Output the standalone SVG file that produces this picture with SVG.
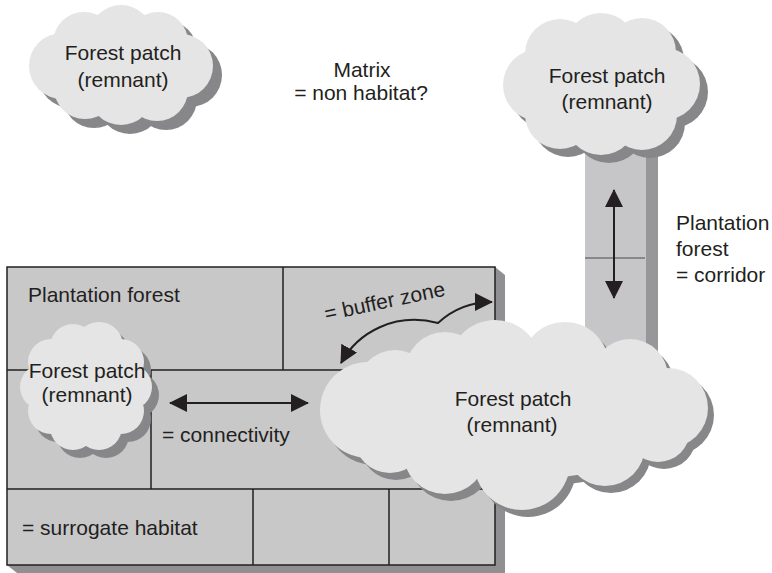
<svg xmlns="http://www.w3.org/2000/svg" xmlns:xlink="http://www.w3.org/1999/xlink" width="772" height="573" viewBox="0 0 772 573">
  <style>
    text { font-family: "Liberation Sans", Arial, sans-serif; font-size: 21px; fill: #231f20; }
    .mid { text-anchor: middle; }
    .cloud { fill: #e5e5e6; }
    .cloud-shadow { fill: #87878a; }
    .block { fill: #c8c8c9; stroke: #231f20; stroke-width: 1.5; }
    .divider { fill: none; stroke: #231f20; stroke-width: 1.5; }
    .arrow { fill: none; stroke: #231f20; stroke-width: 2; marker-start: url(#head); marker-end: url(#head); }
  </style>
  <defs>
    <marker id="head" viewBox="0 0 18 18" refX="17" refY="9" markerWidth="18" markerHeight="18" markerUnits="userSpaceOnUse" orient="auto-start-reverse">
      <path d="M0,0 L18,9 L0,18 z" fill="#231f20"/>
    </marker>
    <!-- cloud silhouettes built from overlapping puffs -->
    <g id="cloudTL">
      <ellipse cx="121" cy="65" rx="66" ry="36"/>
      <circle cx="121" cy="37" r="32"/>
      <circle cx="84" cy="43" r="31"/>
      <circle cx="158" cy="42" r="30"/>
      <circle cx="181" cy="66" r="32"/>
      <circle cx="62" cy="66" r="33"/>
      <circle cx="157" cy="90" r="31"/>
      <circle cx="121" cy="93" r="32"/>
      <circle cx="85" cy="88" r="31"/>
    </g>
    <g id="cloudTR">
      <ellipse cx="601" cy="84" rx="75" ry="50"/>
      <circle cx="601" cy="49" r="36"/>
      <circle cx="560" cy="54" r="35"/>
      <circle cx="642" cy="52" r="34"/>
      <circle cx="664" cy="84" r="36"/>
      <circle cx="539" cy="85" r="36"/>
      <circle cx="642" cy="115" r="35"/>
      <circle cx="601" cy="119" r="36"/>
      <circle cx="560" cy="114" r="35"/>
    </g>
    <g id="cloudSm">
      <ellipse cx="86" cy="387" rx="50" ry="48"/>
      <circle cx="129" cy="387" r="23"/>
      <circle cx="121" cy="411" r="23"/>
      <circle cx="99" cy="427" r="23"/>
      <circle cx="73" cy="427" r="23"/>
      <circle cx="51" cy="411" r="23"/>
      <circle cx="43" cy="387" r="23"/>
      <circle cx="51" cy="362" r="23"/>
      <circle cx="73" cy="347" r="23"/>
      <circle cx="99" cy="346" r="24"/>
      <circle cx="121" cy="362" r="23"/>
    </g>
    <g id="cloudBig">
      <ellipse cx="514" cy="418" rx="160" ry="62"/>
      <circle cx="395" cy="388" r="38"/>
      <circle cx="445" cy="372" r="40"/>
      <circle cx="495" cy="366" r="46"/>
      <circle cx="565" cy="366" r="44"/>
      <circle cx="630" cy="377" r="38"/>
      <circle cx="668" cy="408" r="40"/>
      <circle cx="368" cy="410" r="48"/>
      <circle cx="390" cy="437" r="36"/>
      <circle cx="445" cy="452" r="42"/>
      <circle cx="522" cy="462" r="48"/>
      <circle cx="605" cy="446" r="40"/>
      <circle cx="658" cy="430" r="32"/>
    </g>
  </defs>

  <!-- plantation block -->
  <g id="plantation">
    <polygon points="495,267 505,275 505,573 17,573 7,565" fill="#909092"/>
    <rect class="block" x="7" y="267" width="488" height="298"/>
    <path class="divider" d="M7,370 H495 M283,267 V370 M151,370 V489 M7,489 H495 M253,489 V565 M389,489 V565"/>
    <text x="28" y="302">Plantation forest</text>
    <text x="22" y="535">= surrogate habitat</text>
    <text x="162" y="442">= connectivity</text>
    <text x="326" y="321" transform="rotate(-12 326 321)">= buffer zone</text>
  </g>

  <!-- corridor strip -->
  <g id="corridor">
    <rect x="646" y="140" width="12" height="250" fill="#97979a"/>
    <rect x="585" y="140" width="61" height="250" fill="#c6c6c8"/>
    <line x1="585" y1="258" x2="645" y2="258" stroke="#88888a" stroke-width="2"/>
    <text x="676" y="230">Plantation</text>
    <text x="676" y="256">forest</text>
    <text x="676" y="282">= corridor</text>
  </g>

  <g id="matrix">
    <text class="mid" x="362" y="77">Matrix</text>
    <text class="mid" x="361" y="100">= non habitat?</text>
  </g>

  <g id="patch-top-left">
    <use xlink:href="#cloudTL" class="cloud-shadow" transform="translate(9,9)"/>
    <use xlink:href="#cloudTL" class="cloud"/>
    <text class="mid" x="123" y="60">Forest patch</text>
    <text class="mid" x="123" y="87">(remnant)</text>
  </g>

  <g id="patch-top-right">
    <use xlink:href="#cloudTR" class="cloud-shadow" transform="translate(8,8)"/>
    <use xlink:href="#cloudTR" class="cloud"/>
    <text class="mid" x="607" y="83">Forest patch</text>
    <text class="mid" x="607" y="109">(remnant)</text>
  </g>

  <g id="patch-small">
    <use xlink:href="#cloudSm" class="cloud-shadow" transform="translate(7,8)"/>
    <use xlink:href="#cloudSm" class="cloud"/>
    <text class="mid" x="87" y="378">Forest patch</text>
    <text class="mid" x="87" y="402">(remnant)</text>
  </g>

  <g id="patch-large">
    <use xlink:href="#cloudBig" class="cloud-shadow" transform="translate(6,7)"/>
    <use xlink:href="#cloudBig" class="cloud"/>
    <text class="mid" x="513" y="406">Forest patch</text>
    <text class="mid" x="512" y="432">(remnant)</text>
  </g>

  <!-- connectors -->
  <g id="connectors">
    <line class="arrow" x1="170" y1="403" x2="308" y2="403"/>
    <line class="arrow" x1="614" y1="190" x2="614" y2="298"/>
    <path class="arrow" d="M341,363 C358,332 395,312 438,323 C452,310 470,302 492,302"/>
  </g>
</svg>
